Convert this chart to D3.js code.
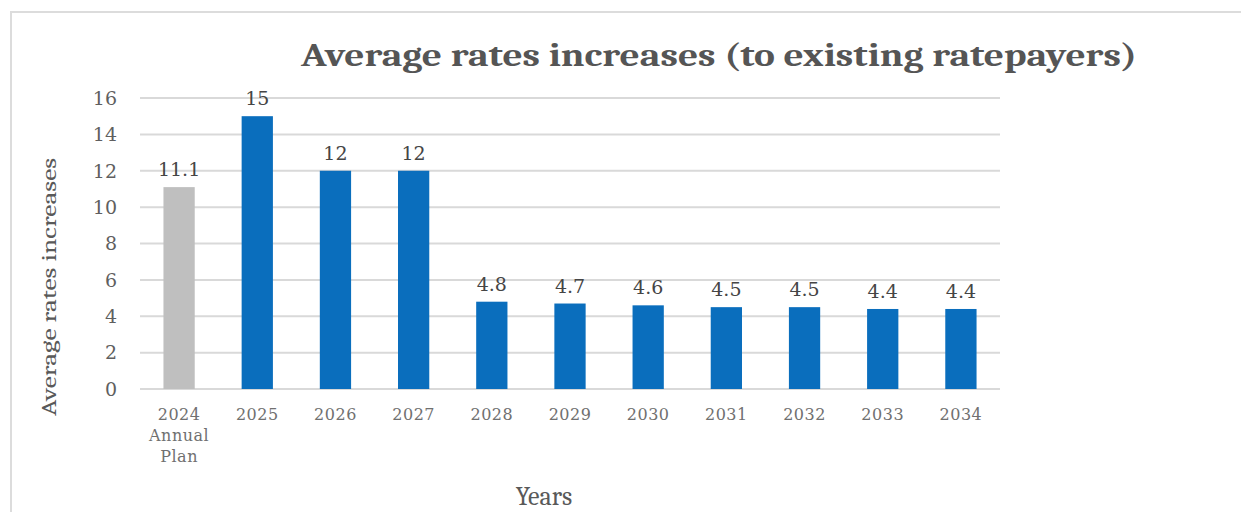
<!DOCTYPE html>
<html>
<head>
<meta charset="utf-8">
<script src="https://cdn.jsdelivr.net/npm/d3@7"></script>
<style>
  body { margin: 0; background: #fff; }
  text { font-family: Cambria, "DejaVu Serif", "Liberation Serif", serif; }
  .num { font-family: "DejaVu Serif", serif; }
</style>
</head>
<body>
<svg id="chart" width="1241" height="512"></svg>
<script>
const years = ["2024", "2025", "2026", "2027", "2028", "2029", "2030", "2031", "2032", "2033", "2034"];
const subLabels = [["Annual", "Plan"], [], [], [], [], [], [], [], [], [], []];
const increases = [11.1, 15, 12, 12, 4.8, 4.7, 4.6, 4.5, 4.5, 4.4, 4.4];
const valueLabels = ["11.1", "15", "12", "12", "4.8", "4.7", "4.6", "4.5", "4.5", "4.4", "4.4"];
const yTicks = [0, 2, 4, 6, 8, 10, 12, 14, 16];

const svg = d3.select("#chart");

// frame of the pasted chart
svg.append("line").attr("x1", 10).attr("x2", 1241).attr("y1", 12).attr("y2", 12)
   .attr("stroke", "#dcdcdc").attr("stroke-width", 2);
svg.append("line").attr("x1", 11).attr("x2", 11).attr("y1", 12).attr("y2", 512)
   .attr("stroke", "#dcdcdc").attr("stroke-width", 2);

const x = d3.scaleBand()
    .domain(years)
    .range([140, 1000])
    .paddingInner(0.6)
    .paddingOuter(0.3);

const y = d3.scaleLinear()
    .domain([0, 16])
    .range([389, 98]);

// gridlines
svg.append("g")
   .selectAll("line")
   .data(yTicks)
   .enter()
   .append("line")
   .attr("x1", 140)
   .attr("x2", 1000)
   .attr("y1", d => y(d))
   .attr("y2", d => y(d))
   .attr("stroke", "#d9d9d9")
   .attr("stroke-width", 2);

// y tick labels
svg.append("g")
   .selectAll("text")
   .data(yTicks)
   .enter()
   .append("text")
   .attr("class", "num")
   .attr("x", 117)
   .attr("y", d => y(d))
   .attr("dy", "0.36em")
   .attr("text-anchor", "end")
   .attr("font-size", 19)
   .attr("fill", "#5f5f5f")
   .text(d => d);

// bars
svg.append("g")
   .selectAll("rect")
   .data(increases)
   .enter()
   .append("rect")
   .attr("x", (d, i) => x(years[i]))
   .attr("y", d => y(d))
   .attr("width", x.bandwidth())
   .attr("height", d => y(0) - y(d))
   .attr("fill", (d, i) => i === 0 ? "#bfbfbf" : "#0a6ebd");

// value labels
svg.append("g")
   .selectAll("text")
   .data(increases)
   .enter()
   .append("text")
   .attr("class", "num")
   .attr("x", (d, i) => x(years[i]) + x.bandwidth() / 2)
   .attr("y", d => y(d) - 11)
   .attr("text-anchor", "middle")
   .attr("font-size", 19)
   .attr("fill", "#454545")
   .text((d, i) => valueLabels[i]);

// x labels
const xl = svg.append("g")
   .selectAll("text")
   .data(years)
   .enter()
   .append("text")
   .attr("class", "num")
   .attr("x", d => x(d) + x.bandwidth() / 2)
   .attr("y", 420)
   .attr("text-anchor", "middle")
   .attr("font-size", 16)
   .attr("letter-spacing", 0.5)
   .attr("fill", "#707070");
xl.append("tspan").text(d => d);
xl.each(function(d, i) {
    subLabels[i].forEach((s, j) => {
        d3.select(this).append("tspan")
          .attr("x", x(d) + x.bandwidth() / 2)
          .attr("y", 441 + j * 21)
          .text(s);
    });
});

// title
svg.append("text")
   .attr("x", 719)
   .attr("y", 66)
   .attr("text-anchor", "middle")
   .attr("font-size", 32)
   .attr("font-weight", "bold")
   .attr("fill", "#555")
   .attr("textLength", 836)
   .attr("lengthAdjust", "spacingAndGlyphs")
   .text("Average rates increases (to existing ratepayers)");

// axis titles
svg.append("text")
   .attr("transform", "translate(56,287) rotate(-90)")
   .attr("text-anchor", "middle")
   .attr("font-size", 21)
   .attr("fill", "#595959")
   .attr("textLength", 258)
   .attr("lengthAdjust", "spacingAndGlyphs")
   .text("Average rates increases");

svg.append("text")
   .attr("x", 544)
   .attr("y", 505)
   .attr("text-anchor", "middle")
   .attr("font-size", 26)
   .attr("fill", "#595959")
   .text("Years");
</script>
</body>
</html>
